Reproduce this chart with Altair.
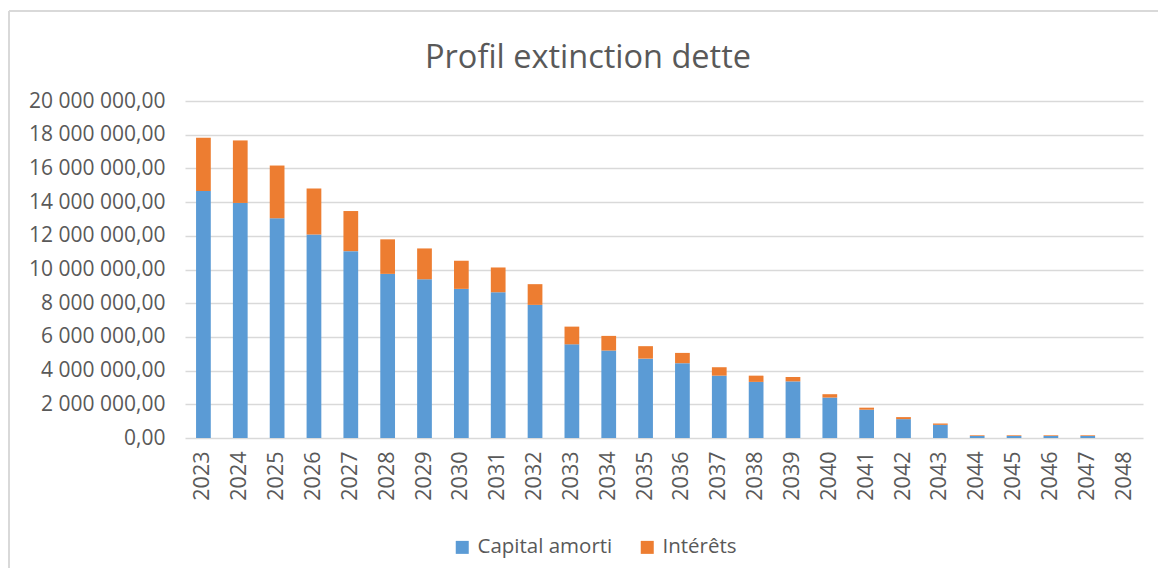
import altair as alt
import pandas as pd

years = [str(y) for y in range(2023, 2049)]
capital = [14660000, 13950000, 13040000, 12080000, 11090000, 9740000, 9420000, 8850000,
           8650000, 7900000, 5560000, 5190000, 4710000, 4440000, 3700000, 3330000,
           3360000, 2400000, 1680000, 1120000, 780000, 120000, 120000, 120000, 120000, 0]
interets = [3160000, 3710000, 3130000, 2720000, 2380000, 2050000, 1830000, 1670000,
            1470000, 1230000, 1050000, 870000, 740000, 610000, 500000, 370000,
            260000, 200000, 120000, 120000, 80000, 40000, 40000, 40000, 40000, 0]
series = ["Capital amorti", "Intérêts"]
colors = ["#5B9BD5", "#ED7D31"]
y_ticks = [0, 2000000, 4000000, 6000000, 8000000, 10000000, 12000000, 14000000,
           16000000, 18000000, 20000000]

rows = []
for i, y in enumerate(years):
    rows.append({"year": y, "series": series[0], "value": capital[i], "ord": 0})
    rows.append({"year": y, "series": series[1], "value": interets[i], "ord": 1})
df = pd.DataFrame(rows)

TXT = "#595959"
GRID = "#d9d9d9"
W, H = 958, 337

label_expr = ("replace(replace(format(datum.value, ',.2f'), regexp(',', 'g'), ' '), '.', ',')")

bars = alt.Chart(df).mark_bar().encode(
    x=alt.X("year:O", sort=years,
            scale=alt.Scale(paddingInner=0.6, paddingOuter=0.3),
            axis=alt.Axis(title=None, labelAngle=270, labelFontSize=21.5, labelColor=TXT,
                          ticks=False, domain=False, labelPadding=13, grid=False)),
    y=alt.Y("value:Q", stack="zero",
            scale=alt.Scale(domain=[0, 20000000], nice=False),
            axis=alt.Axis(title=None, values=y_ticks, labelExpr=label_expr,
                          labelFontSize=21, labelColor=TXT, grid=True, gridColor=GRID,
                          gridWidth=1.3, domain=False, ticks=False, tickSize=0,
                          labelPadding=20)),
    color=alt.Color("series:N",
                    scale=alt.Scale(domain=series, range=colors),
                    legend=alt.Legend(title=None, orient="none", direction="horizontal",
                                      legendX=267, legendY=436, symbolType="square",
                                      symbolSize=169, symbolStrokeWidth=0,
                                      labelFontSize=20.5, labelColor=TXT,
                                      labelOffset=5, columnPadding=24)),
    order=alt.Order("ord:Q"),
)

frame_df = pd.DataFrame({"k": [0]})
top_line = alt.Chart(frame_df).mark_rule(color=GRID, strokeWidth=2).encode(
    x=alt.value(-176), x2=alt.value(W + 20), y=alt.value(-90))
left_line = alt.Chart(frame_df).mark_rule(color=GRID, strokeWidth=2).encode(
    x=alt.value(-176), y=alt.value(-90), y2=alt.value(H + 140))

chart = alt.layer(top_line, left_line, bars).properties(
    width=W, height=H,
    autosize=alt.AutoSizeParams(type="none"),
    padding={"left": 177, "top": 93, "right": 15, "bottom": 130},
    title=alt.Title("Profil extinction dette", fontSize=32.5, font="Open Sans",
                    color=TXT, fontWeight="normal", anchor="middle", dx=-76,
                    offset=30, dy=94),
).configure(font="Open Sans").configure_view(stroke=None)

chart.save("out.html", embed_options={"renderer": "svg", "actions": False})
